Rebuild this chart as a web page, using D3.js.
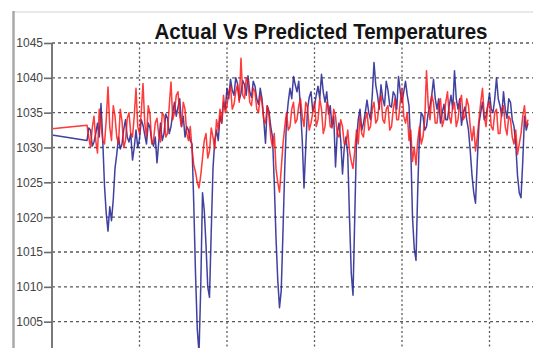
<!DOCTYPE html>
<html>
<head>
<meta charset="utf-8">
<script src="https://cdn.jsdelivr.net/npm/d3@7"></script>
<style>
  body { margin: 0; background: #fff; }
  svg { display: block; }
</style>
</head>
<body>
<div id="chart"></div>
<script>
// y axis ticks (pressure-like readings)
var yTicks = [1045, 1040, 1035, 1030, 1025, 1020, 1015, 1010, 1005];
// x gridline positions (sample index)
var xTicks = [0, 100, 200, 300, 400, 500];

// first reading, then a gap until the regular samples start
var leadT = 0;
var leadActual = 1031.8;
var leadPredicted = 1032.7;
var sampleStart = 40;
var sampleStep = 2;

var actual = [
  1031.0, 1032.8, 1032.5, 1030.2, 1030.8, 1032.0, 1033.5, 1031.5, 1036.3, 1031.0,
  1024.5, 1020.5, 1018.0, 1021.5, 1019.5, 1022.5, 1027.0, 1029.0, 1031.5, 1029.8,
  1030.5, 1032.6, 1034.0, 1031.5, 1030.8, 1032.0, 1028.2, 1030.0, 1032.5, 1030.0,
  1031.2, 1034.0, 1033.2, 1031.8, 1030.5, 1033.5, 1032.8, 1031.0, 1030.2, 1031.5,
  1027.8, 1030.8, 1033.5, 1031.0, 1032.0, 1034.8, 1034.2, 1032.0, 1033.0, 1035.0,
  1036.5, 1034.5, 1035.8, 1037.0, 1033.0, 1034.5, 1031.5, 1033.0, 1032.5, 1031.0,
  1030.5, 1022.0, 1012.0, 1004.0, 1000.5, 1010.0, 1023.5, 1021.0, 1016.0, 1010.0,
  1008.5, 1018.0, 1027.0, 1031.0, 1032.5, 1031.0, 1034.5, 1033.5, 1036.5, 1035.5,
  1038.5, 1037.0, 1039.8, 1038.2, 1037.5, 1040.0, 1039.2, 1036.8, 1037.8, 1039.6,
  1039.0, 1037.5, 1040.3, 1038.0, 1037.2, 1039.5, 1038.8, 1037.0, 1036.2, 1038.5,
  1037.0, 1034.0, 1030.6, 1036.0, 1035.2, 1033.0, 1031.5, 1025.0, 1017.0, 1011.0,
  1007.0, 1009.5, 1018.0, 1027.0, 1034.0, 1036.5, 1038.5, 1037.0, 1040.2, 1039.0,
  1038.0, 1039.5, 1035.5, 1031.0, 1024.2, 1030.0, 1035.5, 1037.2, 1038.0, 1035.2,
  1036.0, 1037.5, 1038.8, 1037.0, 1040.5, 1038.0, 1036.5, 1038.0, 1034.8, 1036.0,
  1033.0, 1034.5, 1027.2, 1032.0, 1033.5, 1031.0, 1026.2, 1030.0, 1031.5, 1029.0,
  1020.0, 1012.0, 1008.8, 1020.0, 1031.0, 1034.0, 1035.5, 1032.5, 1033.5, 1035.0,
  1036.8, 1035.0, 1034.0, 1037.5, 1042.2, 1039.0, 1037.5, 1035.5, 1039.0, 1037.0,
  1036.0, 1039.5, 1038.2, 1036.0, 1035.8, 1038.0, 1037.5, 1035.5, 1040.2, 1038.0,
  1036.5, 1038.0, 1039.5, 1037.5, 1036.0, 1030.0, 1020.0, 1015.5, 1013.8, 1024.0,
  1032.0, 1035.0, 1034.5, 1032.5, 1033.0, 1035.0, 1036.0, 1037.5, 1039.8, 1037.0,
  1035.5, 1037.0, 1033.5, 1035.0, 1036.2, 1034.0, 1034.0, 1036.0, 1037.5, 1035.5,
  1041.0, 1037.0, 1035.5, 1037.0, 1033.2, 1035.0, 1035.8, 1034.0, 1032.5, 1029.5,
  1026.0, 1023.5, 1022.0, 1028.0, 1033.5, 1035.0, 1036.5, 1034.0, 1034.5, 1036.0,
  1037.8, 1035.5, 1035.0, 1037.0, 1040.0, 1037.0, 1036.0, 1034.5, 1038.0, 1035.5,
  1034.2, 1037.0, 1036.5, 1034.0, 1033.0, 1030.5, 1026.0, 1023.5, 1022.8, 1028.0,
  1034.5, 1032.5, 1033.5
];

var predicted = [
  1033.2, 1031.5, 1030.0, 1032.8, 1034.5, 1031.0, 1029.2, 1035.5, 1033.5, 1031.0,
  1030.5, 1034.0, 1038.7, 1033.0, 1031.0, 1036.0, 1034.5, 1031.5, 1030.5, 1035.5,
  1033.8, 1030.0, 1031.0, 1034.2, 1035.0, 1032.0, 1031.5, 1034.5, 1038.5, 1033.0,
  1032.0, 1035.0, 1039.2, 1033.5, 1031.5, 1036.0, 1034.8, 1030.5, 1031.0, 1033.5,
  1034.2, 1031.8, 1030.8, 1035.0, 1034.5, 1031.5, 1032.0, 1036.0, 1039.4, 1034.0,
  1035.0, 1037.5, 1038.0, 1034.5, 1033.0, 1036.5, 1035.5, 1032.0, 1031.0, 1033.0,
  1029.8, 1027.5, 1026.5, 1025.0, 1024.2, 1026.0, 1028.5, 1031.0, 1032.0, 1028.5,
  1029.5, 1032.8, 1031.5, 1029.8, 1034.0, 1032.5, 1035.5, 1033.5, 1037.5, 1035.0,
  1036.0, 1038.0, 1038.8, 1035.5, 1036.2, 1038.0, 1039.0, 1036.5, 1042.8, 1037.5,
  1037.0, 1040.0, 1039.5, 1036.5, 1036.0, 1038.5, 1038.0, 1035.5, 1035.0, 1037.5,
  1036.5, 1034.0, 1033.5, 1036.0, 1034.5, 1031.5, 1030.0, 1032.0, 1027.0, 1025.0,
  1023.6, 1027.0, 1030.5, 1033.0, 1035.0, 1032.5, 1033.0, 1035.5, 1036.5, 1033.5,
  1034.0, 1036.0, 1037.0, 1034.5, 1033.0, 1036.5, 1035.8, 1032.5, 1033.5, 1035.0,
  1036.5, 1033.0, 1034.0, 1037.0, 1035.5, 1032.0, 1033.0, 1036.5, 1035.8, 1033.0,
  1032.8, 1035.5, 1034.5, 1032.0, 1031.5, 1034.0, 1033.0, 1030.5, 1030.5, 1032.5,
  1029.5, 1028.0, 1027.0, 1029.5, 1032.5, 1030.5, 1034.5, 1032.0, 1031.5, 1034.0,
  1035.0, 1032.5, 1033.0, 1035.5, 1036.5, 1033.5, 1034.0, 1036.5, 1037.5, 1034.0,
  1033.5, 1035.5, 1036.0, 1032.5, 1033.0, 1035.5, 1037.0, 1034.0, 1034.0, 1036.5,
  1038.5, 1034.5, 1033.5, 1035.0, 1031.0, 1032.5, 1028.0, 1030.0, 1027.5, 1031.0,
  1033.0, 1030.5, 1031.5, 1034.0, 1041.0, 1036.0, 1034.0, 1037.5, 1036.5, 1033.5,
  1033.5, 1036.0, 1037.0, 1033.0, 1034.0, 1036.5, 1038.0, 1034.5, 1033.5, 1036.0,
  1036.5, 1033.0, 1034.0, 1036.5, 1037.5, 1034.0, 1034.5, 1037.0, 1036.0, 1033.0,
  1031.0, 1033.0, 1029.5, 1031.5, 1034.0, 1036.5, 1038.5, 1034.5, 1033.0, 1036.0,
  1036.5, 1033.0, 1032.5, 1035.0, 1035.5, 1032.0, 1032.0, 1035.5, 1036.0, 1033.0,
  1031.8, 1034.5, 1034.0, 1031.5, 1030.5, 1032.5, 1029.0, 1030.5, 1032.0, 1034.5,
  1036.0, 1033.0, 1034.0
];

var width = 533, height = 348;
var plotLeft = 52, plotTop = 43;

var svg = d3.select('#chart').append('svg')
    .attr('width', width)
    .attr('height', height);

svg.append('rect').attr('width', width).attr('height', height).attr('fill', '#fff');

var x = d3.scaleLinear().domain([0, 600]).range([plotLeft, 577]);
var y = d3.scaleLinear().domain([1000, 1045]).range([356.5, plotTop]);

// build point lists: lead reading then the regular samples
function toPoints(lead, values) {
    var pts = [{ t: leadT, v: lead }];
    values.forEach(function(v, i) {
        pts.push({ t: sampleStart + i * sampleStep, v: v });
    });
    return pts;
}

// soft look of the lines
var defs = svg.append('defs');
defs.append('filter').attr('id', 'soft')
    .append('feGaussianBlur').attr('stdDeviation', 0.35);

// window frame
svg.append('line')
    .attr('x1', 13).attr('x2', width).attr('y1', 12).attr('y2', 12)
    .attr('stroke', '#e2e2e2').attr('stroke-width', 1.5);
svg.append('line')
    .attr('x1', 13.5).attr('x2', 13.5).attr('y1', 11).attr('y2', height)
    .attr('stroke', '#a9a9a9').attr('stroke-width', 2.5);

// gridlines
svg.append('g')
    .attr('class', 'hgrid')
    .selectAll('line')
    .data(yTicks)
    .enter().append('line')
    .attr('x1', plotLeft).attr('x2', width)
    .attr('y1', function(d) { return y(d); })
    .attr('y2', function(d) { return y(d); })
    .attr('stroke', '#5a5a5a')
    .attr('stroke-width', 1.3)
    .attr('stroke-dasharray', '3,3');

svg.append('g')
    .attr('class', 'vgrid')
    .selectAll('line')
    .data(xTicks.slice(1))
    .enter().append('line')
    .attr('x1', function(d) { return x(d); })
    .attr('x2', function(d) { return x(d); })
    .attr('y1', plotTop).attr('y2', height)
    .attr('stroke', '#5a5a5a')
    .attr('stroke-width', 1.3)
    .attr('stroke-dasharray', '2,2.5');

// series
defs.append('clipPath').attr('id', 'plotclip')
    .append('rect')
    .attr('x', plotLeft).attr('y', plotTop - 10)
    .attr('width', width - plotLeft).attr('height', height);

var line = d3.line()
    .x(function(d) { return x(d.t); })
    .y(function(d) { return y(d.v); });

var series = svg.append('g')
    .attr('clip-path', 'url(#plotclip)')
    .append('g')
    .attr('filter', 'url(#soft)');

series.append('path')
    .datum(toPoints(leadActual, actual))
    .attr('d', line)
    .attr('fill', 'none')
    .attr('stroke', '#1f1f8f')
    .attr('stroke-width', 1.5)
    .attr('stroke-opacity', 0.85)
    .attr('stroke-linejoin', 'round');

series.append('path')
    .datum(toPoints(leadPredicted, predicted))
    .attr('d', line)
    .attr('fill', 'none')
    .attr('stroke', '#ff1414')
    .attr('stroke-width', 1.5)
    .attr('stroke-opacity', 0.85)
    .attr('stroke-linejoin', 'round');

// y axis
var yAxis = d3.axisLeft(y)
    .tickValues(yTicks)
    .tickSize(8)
    .tickPadding(1)
    .tickFormat(d3.format('d'));

var ya = svg.append('g')
    .attr('transform', 'translate(' + plotLeft + ',0)')
    .call(yAxis);
ya.select('.domain')
    .attr('stroke', '#7a7a7a').attr('stroke-width', 2)
    .attr('d', 'M0,' + plotTop + 'V' + height);
ya.selectAll('.tick line').attr('stroke', '#6a6a6a').attr('stroke-width', 1.6);
ya.selectAll('.tick text')
    .attr('fill', '#444')
    .style('font-family', 'Liberation Sans, Arial, sans-serif')
    .style('font-size', '12px');

// title
svg.append('text')
    .attr('x', 321).attr('y', 39)
    .attr('text-anchor', 'middle')
    .attr('textLength', 333)
    .attr('lengthAdjust', 'spacingAndGlyphs')
    .style('font-family', 'Liberation Sans, Arial, sans-serif')
    .style('font-weight', 'bold')
    .style('font-size', '22px')
    .attr('fill', '#151515')
    .text('Actual Vs Predicted Temperatures');
</script>
</body>
</html>
